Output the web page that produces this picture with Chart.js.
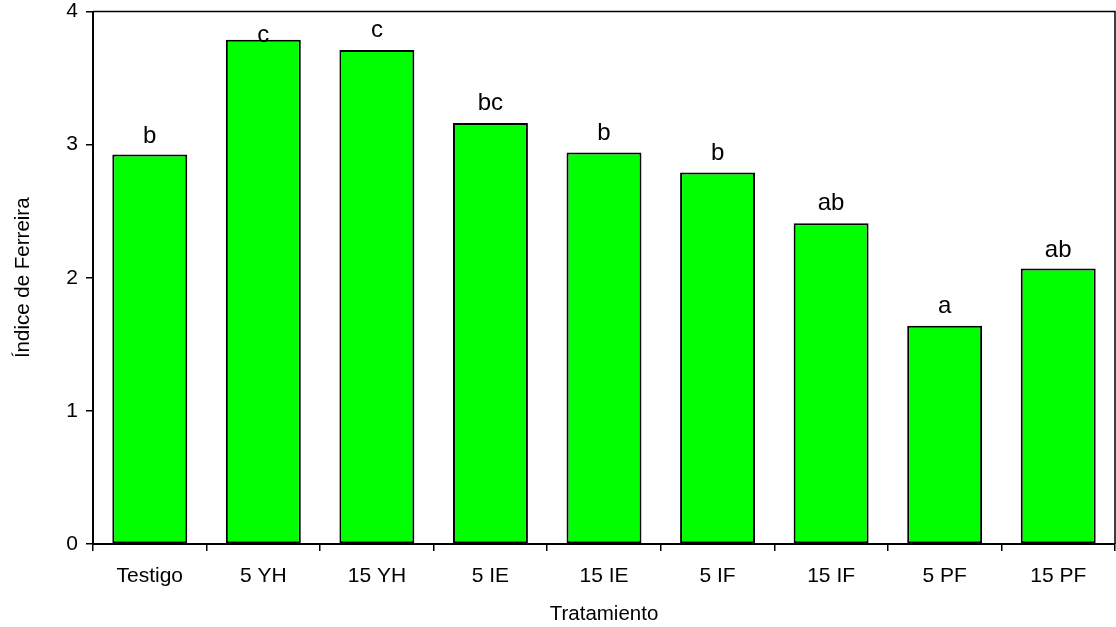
<!DOCTYPE html>
<html>
<head>
<meta charset="utf-8">
<style>
  html, body { margin: 0; padding: 0; background: #fff; }
  #wrap { width: 1116px; height: 627px; }
</style>
</head>
<body>
<div id="wrap"><canvas id="ferreiraChart" width="1116" height="627"></canvas></div>
<script src="https://cdn.jsdelivr.net/npm/chart.js"></script>
<script>
// Tratamientos y valores del indice
const treatments = ['Testigo', '5 YH', '15 YH', '5 IE', '15 IE', '5 IF', '15 IF', '5 PF', '15 PF'];
const ferreiraIndex = [2.925, 3.787, 3.71, 3.163, 2.94, 2.79, 2.41, 1.64, 2.07];
// letras de significancia y la altura (en unidades del eje) donde van
const letters = ['b', 'c', 'c', 'bc', 'b', 'b', 'ab', 'a', 'ab'];
const letterAt = [3.013, 3.772, 3.811, 3.261, 3.035, 2.885, 2.51, 1.736, 2.159];
const yTicks = [0, 1, 2, 3, 4];

const FONT = 'Liberation Sans, Arial, sans-serif';

// letters over the bars + top/right frame
const extrasPlugin = {
    id: 'extras',
    afterDatasetsDraw(chart) {
        const ctx = chart.ctx;
        const y = chart.scales.y;
        const area = chart.chartArea;
        ctx.save();
        ctx.strokeStyle = '#000';
        ctx.lineWidth = 1.5;
        ctx.beginPath();
        ctx.moveTo(area.left, area.top);
        ctx.lineTo(area.right, area.top);
        ctx.lineTo(area.right, area.bottom);
        ctx.stroke();

        ctx.fillStyle = '#000';
        ctx.font = '24px ' + FONT;
        ctx.textAlign = 'center';
        ctx.textBaseline = 'alphabetic';
        chart.getDatasetMeta(0).data.forEach((bar, i) => {
            ctx.fillText(letters[i], bar.x, y.getPixelForValue(letterAt[i]));
        });
        ctx.restore();
    }
};

document.addEventListener('DOMContentLoaded', function () {
    const ctx = document.getElementById('ferreiraChart').getContext('2d');
    new Chart(ctx, {
        type: 'bar',
        data: {
            labels: treatments,
            datasets: [{
                data: ferreiraIndex,
                backgroundColor: '#00ff00',
                borderColor: '#000',
                borderWidth: 2,
                borderSkipped: false,
                barPercentage: 0.66,
                categoryPercentage: 1.0
            }]
        },
        options: {
            responsive: false,
            animation: false,
            layout: { padding: { top: 11.5, right: 1, left: 0, bottom: 0 } },
            plugins: {
                legend: { display: false },
                tooltip: { enabled: false }
            },
            scales: {
                x: {
                    grid: {
                        offset: true,
                        drawOnChartArea: false,
                        drawTicks: true,
                        tickLength: 7,
                        color: '#000',
                        lineWidth: 1.5
                    },
                    border: { display: true, color: '#000', width: 2 },
                    ticks: {
                        color: '#000',
                        font: { family: FONT, size: 21 },
                        padding: 13,
                        maxRotation: 0,
                        autoSkip: false
                    },
                    title: {
                        display: true,
                        text: 'Tratamiento',
                        color: '#000',
                        font: { family: FONT, size: 20.5 },
                        padding: { top: 6, bottom: 0 }
                    },
                    afterFit(scale) {
                        scale.height = 83;
                        scale.paddingLeft = 0;
                        scale.paddingRight = 0;
                    }
                },
                y: {
                    min: 0,
                    max: 4,
                    afterBuildTicks(scale) {
                        scale.ticks = yTicks.map(v => ({ value: v }));
                    },
                    grid: {
                        drawOnChartArea: false,
                        drawTicks: true,
                        tickLength: 7,
                        color: '#000',
                        lineWidth: 1.5
                    },
                    border: { display: true, color: '#000', width: 2 },
                    ticks: {
                        color: '#000',
                        font: { family: FONT, size: 21 },
                        padding: 8
                    },
                    title: {
                        display: true,
                        text: 'Índice de Ferreira',
                        color: '#000',
                        font: { family: FONT, size: 20.5 },
                        padding: { top: 11, bottom: 4 }
                    },
                    afterFit(scale) {
                        scale.width = 93;
                        scale.paddingTop = 0;
                        scale.paddingBottom = 0;
                    }
                }
            }
        },
        plugins: [extrasPlugin]
    });
});
</script>
</body>
</html>
